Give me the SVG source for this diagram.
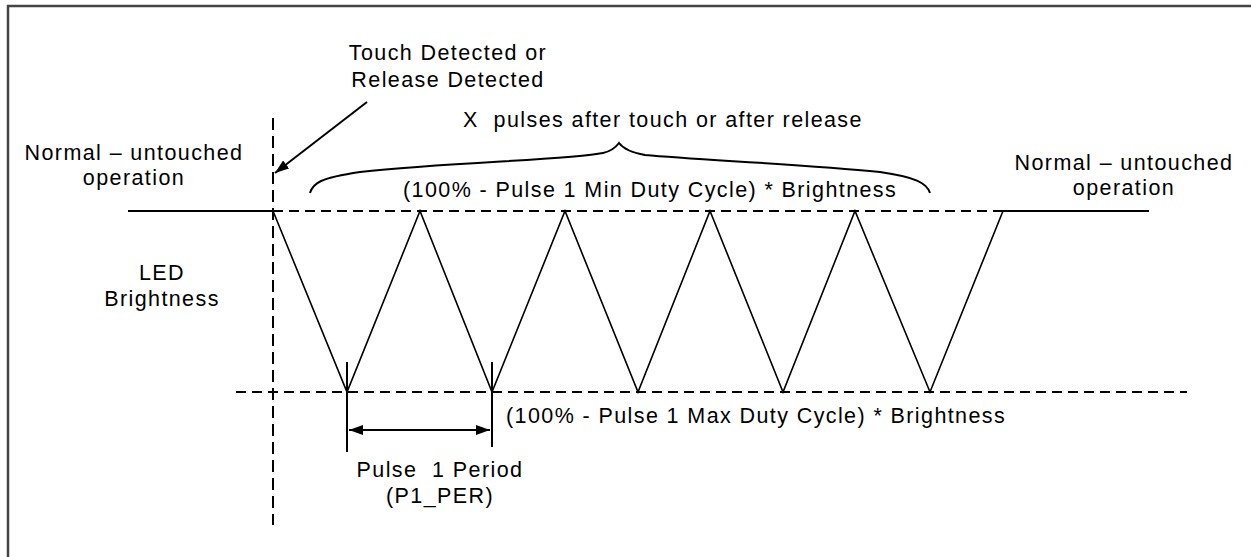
<svg xmlns="http://www.w3.org/2000/svg" width="1251" height="557" viewBox="0 0 1251 557">
<style>
text{font-family:"Liberation Sans",Arial,sans-serif;font-size:21.5px;fill:#000;letter-spacing:1.4px;white-space:pre}
.c{text-anchor:middle}
.ln{stroke:#000;stroke-width:2;fill:none}
.th{stroke:#000;stroke-width:1.6;fill:none}
.d{stroke:#000;stroke-width:2;fill:none;stroke-dasharray:10 6}
</style>
<defs>
<marker id="ah" viewBox="0 0 14 10" refX="14" refY="5" markerWidth="14" markerHeight="10" markerUnits="userSpaceOnUse" orient="auto-start-reverse">
<path d="M0,0 L14,5 L0,10 z" fill="#000"/>
</marker>
</defs>
<rect x="0" y="0" width="1251" height="557" fill="#fff"/>
<path d="M8,557 L8,6 L1251,6" stroke="#444" stroke-width="2.5" fill="none"/>
<g id="connectors">
<line class="ln" x1="128" y1="211" x2="273" y2="211"/>
<line class="d" x1="273" y1="211" x2="1003" y2="211"/>
<line class="ln" x1="1003" y1="211" x2="1149" y2="211"/>
<line class="d" x1="236" y1="392" x2="1187" y2="392"/>
<line class="d" x1="273" y1="118" x2="273" y2="525" style="stroke-dasharray:12 6"/>
<polyline class="th" points="273,211 347,392 420,211 492,392 565,211 638,392 710,211 783,392 855,211 930,392 1003,211"/>
<line class="ln" x1="347" y1="362" x2="347" y2="452"/>
<line class="ln" x1="492" y1="362" x2="492" y2="447"/>
<line class="ln" x1="349" y1="430" x2="490" y2="430" marker-start="url(#ah)" marker-end="url(#ah)"/>
<line class="ln" x1="367" y1="102" x2="275" y2="173" marker-end="url(#ah)"/>
<path class="ln" d="M310,193 C313,183 320,178 360,172 C450,162 570,160 603,153 C612,151 616,147 619,143 C622,147 628,152 645,155 C700,160 800,164 880,172 C915,177 927,183 930,193"/>
</g>
<g id="touch-label"><text class="c" x="448" y="60">Touch Detected or</text><text class="c" x="448" y="87">Release Detected</text></g>
<g id="pulses-label"><text class="c" x="663" y="127" xml:space="preserve">X  pulses after touch or after release</text></g>
<g id="normal-left"><text class="c" x="134" y="160">Normal – untouched</text><text class="c" x="134" y="185">operation</text></g>
<g id="normal-right"><text class="c" x="1124" y="170">Normal – untouched</text><text class="c" x="1124" y="195">operation</text></g>
<g id="min-label"><text x="403" y="197">(100% - Pulse 1 Min Duty Cycle) * Brightness</text></g>
<g id="led-label"><text class="c" x="162" y="280">LED</text><text class="c" x="162" y="306">Brightness</text></g>
<g id="max-label"><text x="506" y="423">(100% - Pulse 1 Max Duty Cycle) * Brightness</text></g>
<g id="period-label"><text class="c" x="440" y="477" xml:space="preserve">Pulse  1 Period</text><text class="c" x="440" y="503">(P1_PER)</text></g>
</svg>
